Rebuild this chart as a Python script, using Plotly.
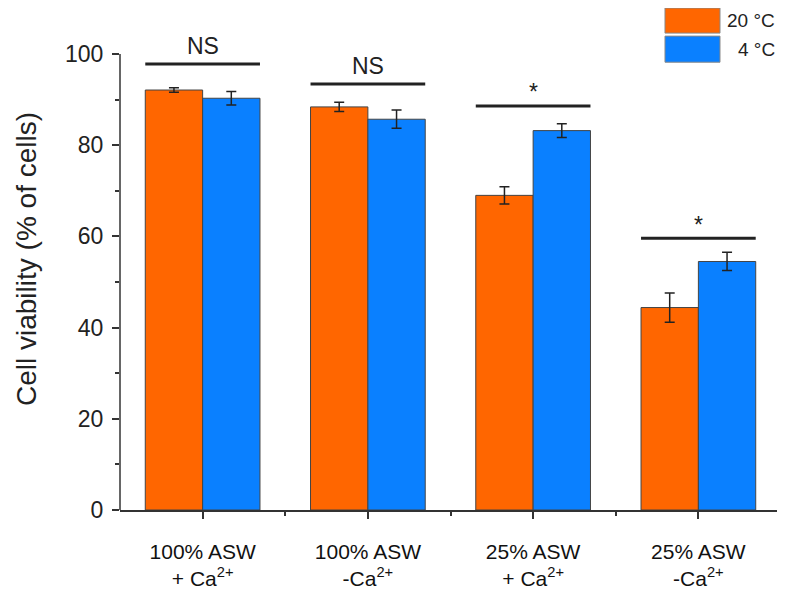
import plotly.graph_objects as go

categories = ["100% ASW<br>+ Ca<sup>2+</sup>", "100% ASW<br>-Ca<sup>2+</sup>",
              "25% ASW<br>+ Ca<sup>2+</sup>", "25% ASW<br>-Ca<sup>2+</sup>"]
series_names = ["20 °C", "4 °C"]
vals_20 = [92.1, 88.4, 69.0, 44.4]
err_20 = [0.5, 1.0, 1.9, 3.2]
vals_4 = [90.3, 85.7, 83.2, 54.5]
err_4 = [1.5, 2.0, 1.5, 2.0]
sig_labels = ["NS", "NS", "*", "*"]
sig_line_y = [97.8, 93.4, 88.6, 59.6]
y_ticks = [0, 20, 40, 60, 80, 100]

ORANGE = "#ff6600"
BLUE = "#0a80ff"
DARK = "#222222"
FONT = "Liberation Sans, Arial, sans-serif"

xs = list(range(len(categories)))

fig = go.Figure()
fig.add_trace(go.Bar(
    x=xs, y=vals_20, name=series_names[0], marker=dict(color=ORANGE, line=dict(color="#444", width=1)),
    error_y=dict(type="data", array=err_20, color=DARK, thickness=1.5, width=5), showlegend=False))
fig.add_trace(go.Bar(
    x=xs, y=vals_4, name=series_names[1], marker=dict(color=BLUE, line=dict(color="#444", width=1)),
    error_y=dict(type="data", array=err_4, color=DARK, thickness=1.5, width=5), showlegend=False))

shapes = []
annotations = []
half = 0.347
for i in xs:
    shapes.append(dict(type="line", xref="x", yref="y", x0=i - half, x1=i + half,
                       y0=sig_line_y[i], y1=sig_line_y[i], line=dict(color=DARK, width=3)))
    is_ns = sig_labels[i] == "NS"
    annotations.append(dict(x=i, y=sig_line_y[i] + (3.95 if is_ns else 3.0), xref="x", yref="y",
                            text=sig_labels[i], showarrow=False, yanchor="middle",
                            font=dict(size=23, color=DARK, family=FONT)))

# y axis line from 0 to 100
shapes.append(dict(type="line", xref="paper", yref="y", x0=0, x1=0, y0=0, y1=100,
                   line=dict(color="#333", width=1.5)))

# custom legend (paper coords)
leg = [(series_names[0], ORANGE, 1.0, 0.950, 0.975),
       (series_names[1], BLUE, 0.944, 0.892, 0.918)]
for name, col, ytop, ybot, ymid in leg:
    shapes.append(dict(type="rect", xref="paper", yref="paper", x0=0.8245, x1=0.9077,
                       y0=ybot, y1=ytop, fillcolor=col, line=dict(color="#888", width=1)))
    annotations.append(dict(x=0.994, y=ymid, xref="paper", yref="paper", text=name,
                            showarrow=False, xanchor="right", yanchor="middle",
                            font=dict(size=19, color="#222", family=FONT)))

fig.update_layout(
    width=777, height=583,
    margin=dict(l=112, r=4, t=0, b=81),
    paper_bgcolor="white", plot_bgcolor="white",
    barmode="group", bargap=0.306, bargroupgap=0,
    font=dict(family=FONT, color="#222"),
    shapes=shapes, annotations=annotations,
    xaxis=dict(range=[-0.5, 3.5], tickmode="array", tickvals=xs, ticktext=categories,
               showline=True, linecolor="#333", linewidth=1.5, ticks="outside", ticklen=7,
               tickcolor="#333", tickwidth=1.5, showgrid=False, zeroline=False,
               tickfont=dict(size=21, color="#111"), ticklabelstandoff=15,
               minor=dict(tickmode="array", tickvals=[0.5, 1.5, 2.5, 3.5], ticks="outside",
                          ticklen=4, tickcolor="#333", tickwidth=1.5)),
    yaxis=dict(range=[0, 110.09], tickmode="array", tickvals=y_ticks,
               showline=False, ticks="outside", ticklen=7, tickcolor="#333", tickwidth=1.5,
               showgrid=False, zeroline=False, tickfont=dict(size=23, color="#222"),
               ticklabelstandoff=4,
               title=dict(text="Cell viability (% of cells)", font=dict(size=28, color="#222"), standoff=20),
               minor=dict(tickmode="array", tickvals=[10, 30, 50, 70, 90], ticks="outside",
                          ticklen=4, tickcolor="#333", tickwidth=1.5)),
)

fig.write_html("out.html")
